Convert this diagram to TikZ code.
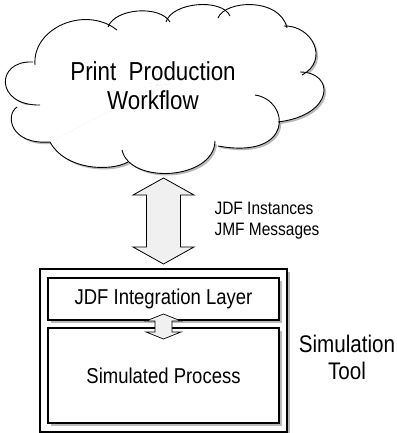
\documentclass[tikz,border=0pt]{standalone}
\usepackage{fontspec}
\setmainfont{Liberation Sans}[FakeStretch=0.86]
\usetikzlibrary{shadows}
\definecolor{shadowgray}{RGB}{185,185,185}
\definecolor{arrowfill}{RGB}{240,240,240}
\newcommand\allbumps[1]{%
  #1{(33,62)}{(-5,60)}{(-5,106)}{(40,105)}%
  #1{(35,65)}{(32,28)}{(85,5)}{(117,30)}%
  #1{(108,27)}{(115,8)}{(160,5)}{(170,22)}%
  #1{(166,22)}{(172,2)}{(222,-2)}{(230,16)}%
  #1{(218,18)}{(225,0)}{(280,-3)}{(287,28)}%
  #1{(284,26)}{(312,25)}{(330,60)}{(302,75)}%
  #1{(300,72)}{(335,72)}{(335,115)}{(278,122)}%
  #1{(255,95)}{(290,100)}{(295,160)}{(218,146)}%
  #1{(215,141)}{(214,180)}{(130,185)}{(122,150)}%
  #1{(128,162)}{(110,172)}{(65,170)}{(50,142)}%
  #1{(50,142)}{(10,145)}{(5,115)}{(17,107)}%
}
\newcommand\shadowbump[4]{\fill[shadowgray,shift={(2,2)}] (cloudctr) -- #1 .. controls #2 and #3 .. #4 -- cycle;}
\newcommand\whitebump[4]{\fill[white] (cloudctr) -- #1 .. controls #2 and #3 .. #4 -- cycle;}
\newcommand\strokebump[4]{\draw[cloudline] #1 .. controls #2 and #3 .. #4;}
\tikzset{
  cloudline/.style={line width=0.9pt, black},
  boxstyle/.style={draw=black, line width=1.2pt, fill=white, inner sep=0pt,
    drop shadow={shadow xshift=3pt, shadow yshift=-3pt, fill=shadowgray, opacity=1}},
  blockarrow/.style={draw=black, line width=0.8pt, fill=arrowfill},
  arrowshadow/.style={fill=shadowgray},
}
\begin{document}
\begin{tikzpicture}[x=1pt, y=-1pt]
\useasboundingbox (0,0) rectangle (396,433);
% cloud
\coordinate (cloudctr) at (160,85);
\allbumps\shadowbump
\allbumps\whitebump
\allbumps\strokebump
\node[align=center, font=\fontsize{26}{29}\selectfont] (workflow) at (153,86) {Print\ \ Production\\Workflow};
% big double arrow
\coordinate (atop) at (163.5,178);
\coordinate (abot) at (163.5,264);
\fill[arrowshadow, shift={(2,1.5)}] (atop) -- ++(30.5,17) -- ++(-13.5,0) -- ++(0,52) -- ++(13.5,0) -- (abot) -- ++(-30.5,-17) -- ++(13.5,0) -- ++(0,-52) -- ++(-13.5,0) -- cycle;
\draw[blockarrow] (atop) -- ++(30.5,17) -- ++(-13.5,0) -- ++(0,52) -- ++(13.5,0) -- (abot) -- ++(-30.5,-17) -- ++(13.5,0) -- ++(0,-52) -- ++(-13.5,0) -- cycle;
\node[anchor=west, align=left, font=\fontsize{18}{21}\selectfont] (msgs) at (211,221) {JDF Instances\\JMF Messages};
% boxes
\node[boxstyle, minimum width=247pt, minimum height=163pt] (tool) at (163.5,350.5) {};
\node[boxstyle, minimum width=231pt, minimum height=42pt, font=\fontsize{21.5}{24}\selectfont] (layer) at (163.5,299) {JDF Integration Layer};
\node[boxstyle, minimum width=231pt, minimum height=95pt, font=\fontsize{21.5}{24}\selectfont] (process) at (163.5,375.5) {Simulated Process};
% small double arrow
\coordinate (stop) at (163.5,314);
\coordinate (sbot) at (163.5,339);
\draw[blockarrow, line width=0.7pt] (stop) -- ++(17.5,7) -- ++(-9,0) -- ++(0,11) -- ++(9,0) -- (sbot) -- ++(-17.5,-7) -- ++(9,0) -- ++(0,-11) -- ++(-9,0) -- cycle;
\node[align=center, font=\fontsize{24}{27}\selectfont] (simtool) at (347,357) {Simulation\\Tool};
\end{tikzpicture}
\end{document}
